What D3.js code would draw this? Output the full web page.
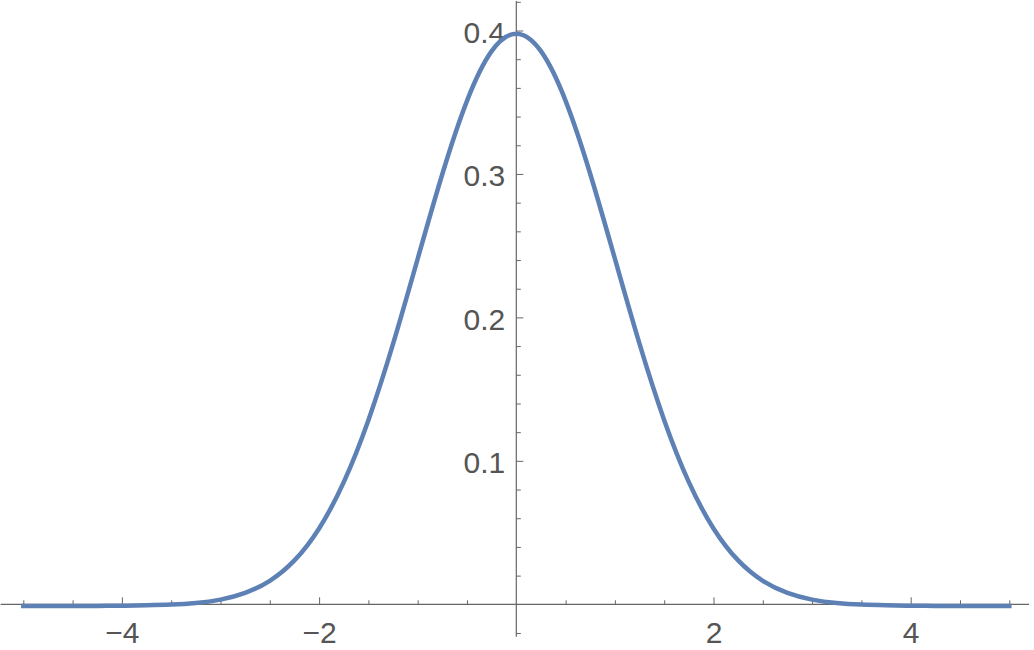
<!DOCTYPE html>
<html>
<head>
<meta charset="utf-8">
<script src="https://cdn.jsdelivr.net/npm/d3@7"></script>
<style>
  body { margin: 0; background: #fff; }
  svg text { font-family: "Liberation Sans", Arial, sans-serif; }
</style>
</head>
<body>
<div id="chart"></div>
<script>
// values
var xs = [-5, -4.75, -4.5, -4.25, -4, -3.75, -3.5, -3.25, -3, -2.75, -2.5, -2.25, -2, -1.75, -1.5, -1.25, -1, -0.75, -0.5, -0.25,
  0, 0.25, 0.5, 0.75, 1, 1.25, 1.5, 1.75, 2, 2.25, 2.5, 2.75, 3, 3.25, 3.5, 3.75, 4, 4.25, 4.5, 4.75, 5];
var ys = [0, 0, 0, 0, 0.0001, 0.0004, 0.0009, 0.0020, 0.0044, 0.0091, 0.0175, 0.0317, 0.0540, 0.0863, 0.1295, 0.1826, 0.2420, 0.3011, 0.3521, 0.3867,
  0.3989, 0.3867, 0.3521, 0.3011, 0.2420, 0.1826, 0.1295, 0.0863, 0.0540, 0.0317, 0.0175, 0.0091, 0.0044, 0.0020, 0.0009, 0.0004, 0.0001, 0, 0, 0, 0];

var xMajor = [-4, -2, 2, 4];
var xMinor = [-5, -4.5, -3.5, -3, -2.5, -1.5, -1, -0.5, 0.5, 1, 1.5, 2.5, 3, 3.5, 4.5, 5];
var yMajor = [0.1, 0.2, 0.3, 0.4];
var yMinor = [-0.02, 0.02, 0.04, 0.06, 0.08, 0.12, 0.14, 0.16, 0.18, 0.22, 0.24, 0.26, 0.28, 0.32, 0.34, 0.36, 0.38, 0.42];

var width = 1034, height = 650;
var axisColor = '#666';
var labelColor = '#555';

var svg = d3.select('#chart')
  .append('svg')
  .attr('width', width)
  .attr('height', height);

var x = d3.scaleLinear().domain([-5, 5]).range([23.3, 1009.3]);
var y = d3.scaleLinear().domain([0, 0.4]).range([604.3, 30.5]);

// axis lines
svg.append('line')
  .attr('x1', x(-5.23)).attr('x2', x(5.2))
  .attr('y1', y(0)).attr('y2', y(0))
  .style('stroke', axisColor).style('stroke-width', 1.2);

svg.append('line')
  .attr('x1', x(0)).attr('x2', x(0))
  .attr('y1', y(0.4205)).attr('y2', y(-0.0226))
  .style('stroke', axisColor).style('stroke-width', 1.2);

// x ticks
var gx = svg.append('g')
  .attr('transform', 'translate(0,' + y(0) + ')')
  .call(d3.axisBottom(x)
    .tickValues(xMajor)
    .tickSize(-7)
    .tickPadding(17)
    .tickFormat(d => (d < 0 ? '\u2212' : '') + Math.abs(d)));

svg.append('g')
  .attr('transform', 'translate(0,' + y(0) + ')')
  .call(d3.axisBottom(x).tickValues(xMinor).tickSize(-4).tickFormat(''))
  .call(g => g.select('.domain').remove())
  .selectAll('line').style('stroke', axisColor);

// y ticks
var gy = svg.append('g')
  .attr('transform', 'translate(' + x(0) + ',0)')
  .call(d3.axisLeft(y)
    .tickValues(yMajor)
    .tickSize(-7)
    .tickPadding(11)
    .tickFormat(d3.format('.1f')));

gy.selectAll('text').attr('dy', '0.4em');

svg.append('g')
  .attr('transform', 'translate(' + x(0) + ',0)')
  .call(d3.axisLeft(y).tickValues(yMinor).tickSize(-4.5).tickFormat(''))
  .call(g => g.select('.domain').remove())
  .selectAll('line').style('stroke', axisColor);

[gx, gy].forEach(function(g) {
  g.select('.domain').remove();
  g.selectAll('line').style('stroke', axisColor);
  g.selectAll('text')
    .style('font-size', '30px')
    .style('fill', labelColor);
});

// curve
var line = d3.line()
  .x((d, i) => x(xs[i]))
  .y(d => y(d) + 1.6)
  .curve(d3.curveNatural);

svg.append('path')
  .datum(ys)
  .attr('d', line)
  .style('fill', 'none')
  .style('stroke', '#5e81b5')
  .style('stroke-width', 4.5)
  .style('stroke-linecap', 'square');
</script>
</body>
</html>
